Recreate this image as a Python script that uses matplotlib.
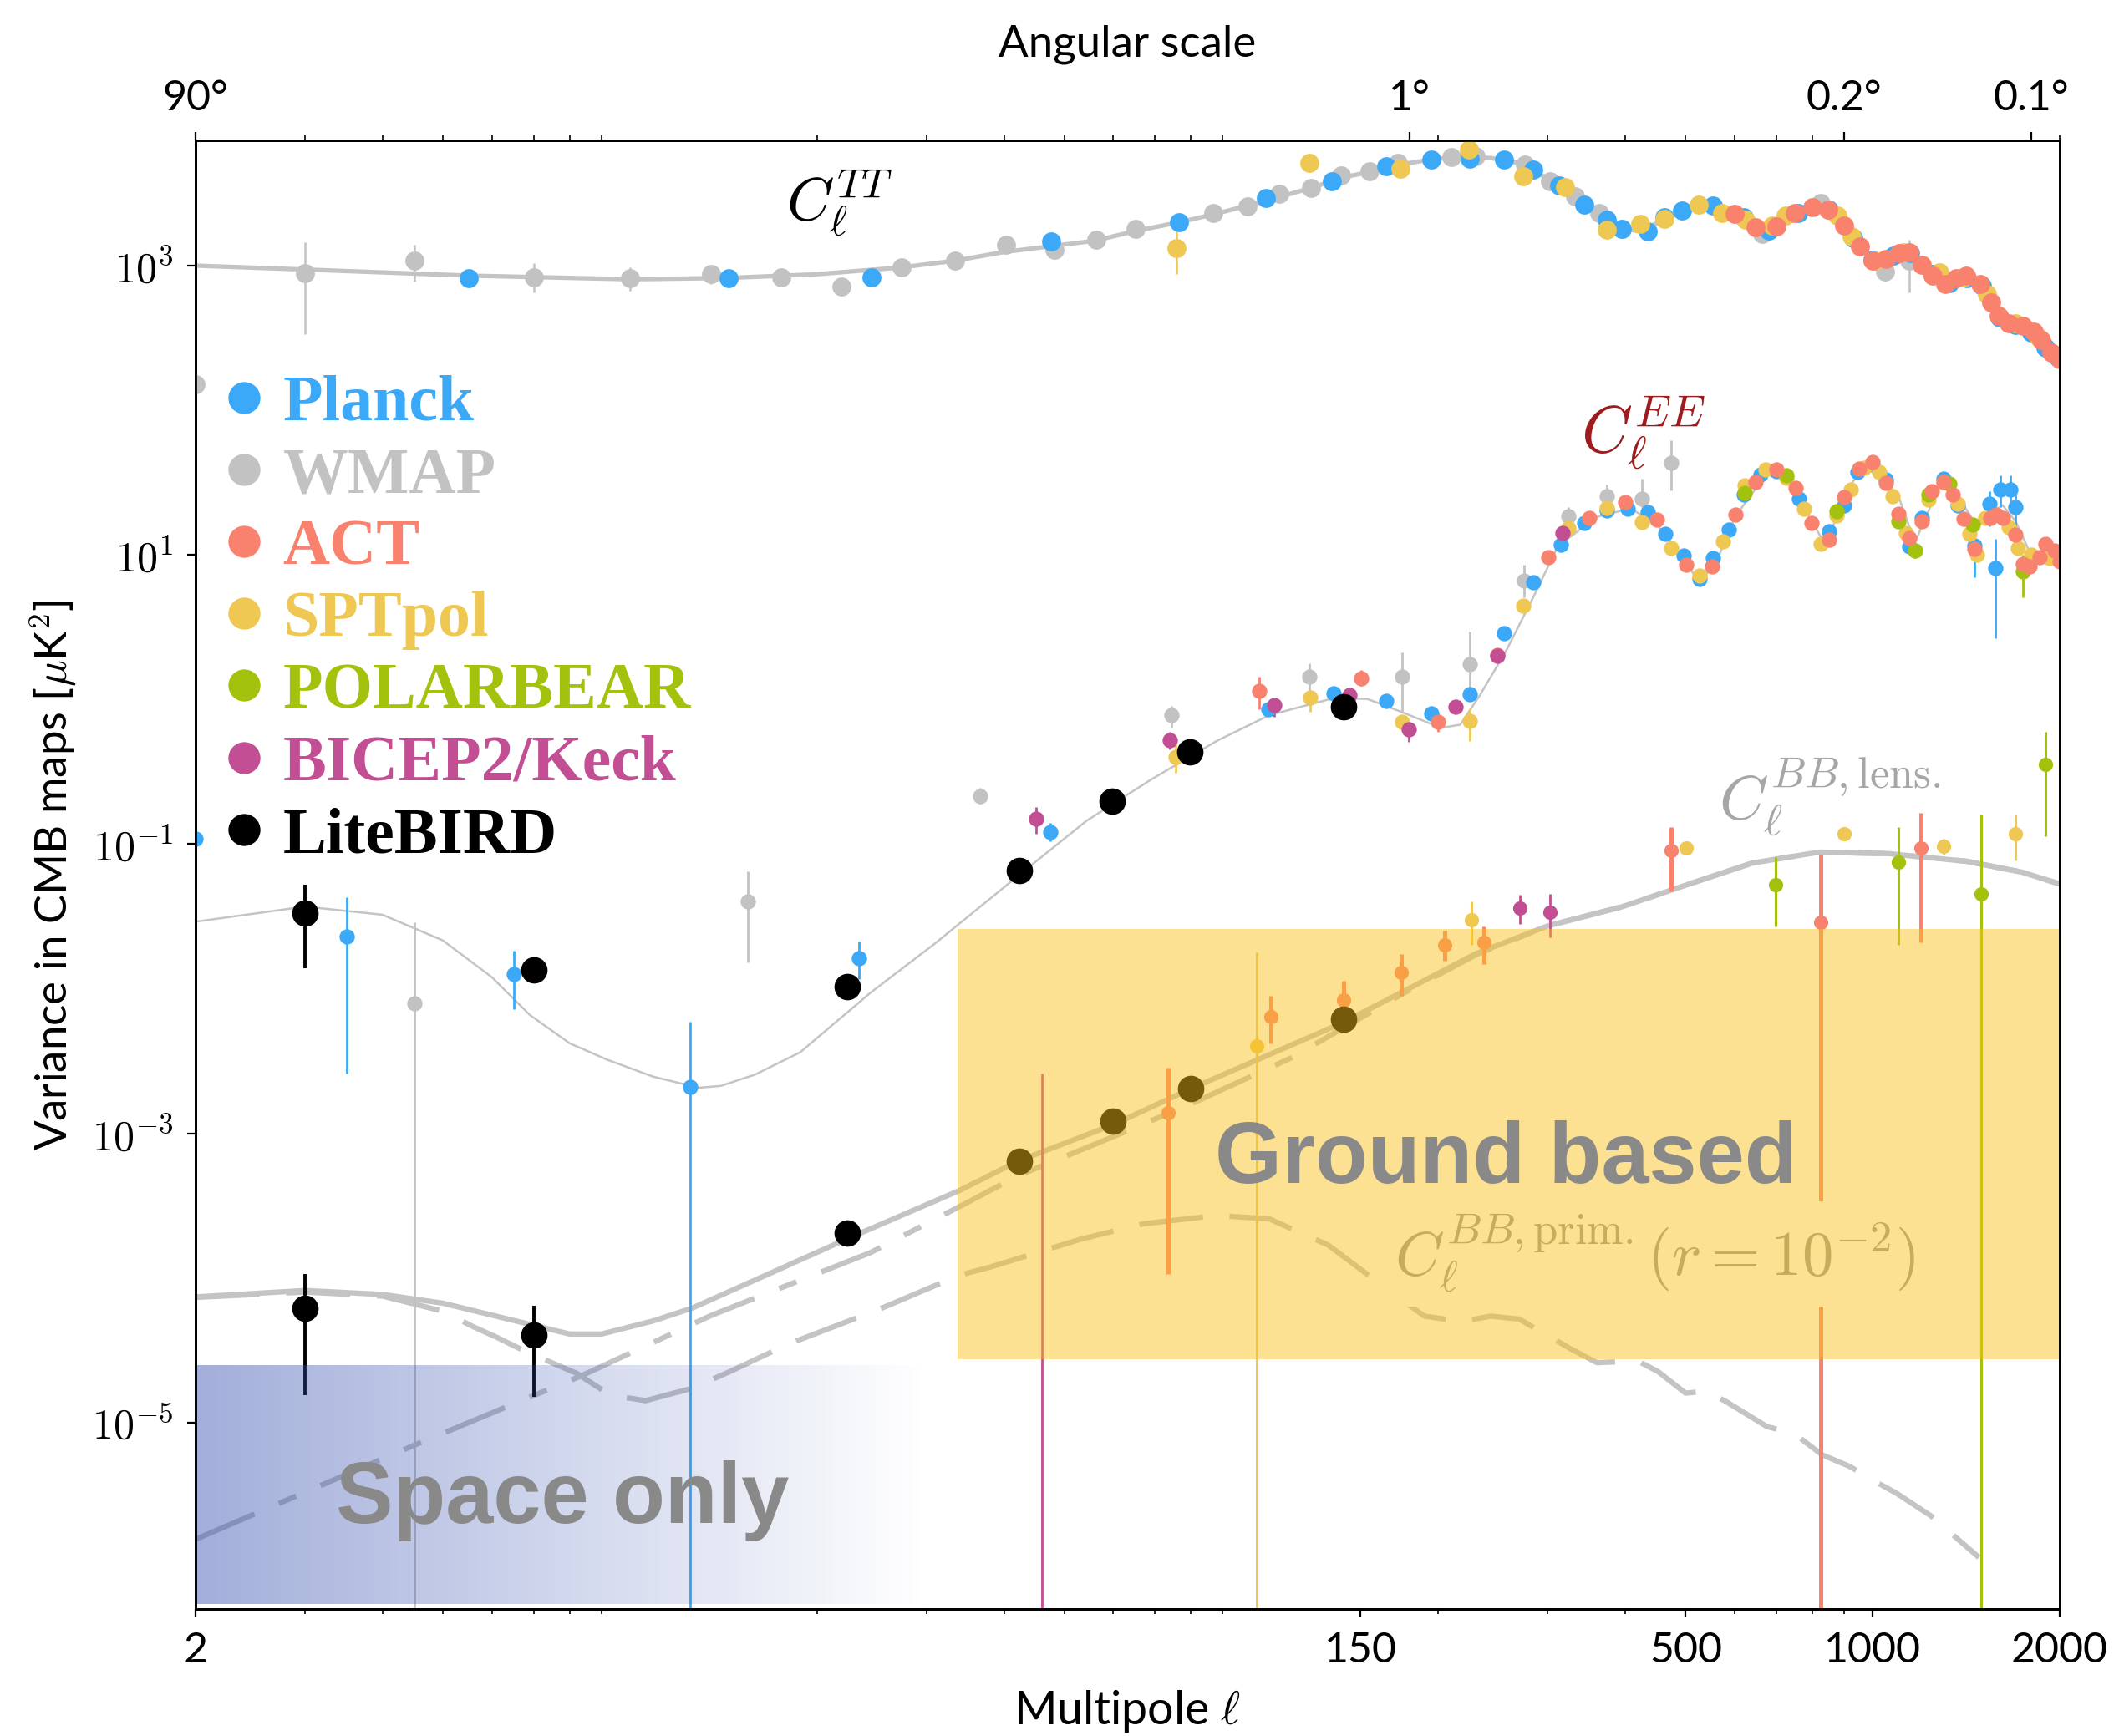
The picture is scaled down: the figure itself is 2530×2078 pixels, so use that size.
import numpy as np
import matplotlib
matplotlib.use('Agg')
import matplotlib.pyplot as plt
from matplotlib.lines import Line2D
from matplotlib.ticker import LogLocator, NullFormatter, NullLocator

plt.rcParams['font.family'] = ['Lato', 'DejaVu Sans']
plt.rcParams['mathtext.fontset'] = 'cm'

# ---------------- theory curves (D_ell, muK^2) ----------------
tt_l = [2, 3, 5.5, 10, 14.4, 20, 27.4, 33.4, 40, 56, 65, 76, 87, 106, 125, 140, 155, 175, 195, 220,
        243, 276, 303, 332, 363, 395, 420, 463, 493, 543, 600, 650, 690, 724, 800, 830, 900, 953, 1000, 1050,
        1100, 1147, 1200, 1250, 1308, 1360, 1416, 1492, 1552, 1595, 1658, 1745, 1817, 1866, 1939, 2000]
tt_d = [1000, 940, 853, 805, 822, 872, 973, 1083, 1242, 1486, 1733, 1982, 2262, 2824, 3448, 4064, 4440, 5020, 5440, 5620,
        5550, 5020, 3850, 3020, 2313, 1812, 1733, 2070, 2366, 2582, 2262, 1853, 1773, 2163, 2529, 2560, 1982, 1390, 1112, 1130,
        1200, 1242, 1064, 891, 780, 800, 833, 747, 560, 458, 401, 384, 351, 307, 257, 226]

ee_l = [2, 3, 4, 5, 6, 6.9, 8, 9.2, 10.9, 12.9, 14, 15.9, 18.8, 24.4, 30.9, 42, 54.3, 69.2, 88.2, 107,
        136.6, 154, 174.6, 202, 217, 233, 257, 283, 312, 361, 407, 449, 483, 526, 558, 601, 678, 700, 728, 824,
        840, 929, 1000, 1102, 1170, 1276, 1330, 1475, 1560, 1620, 1700, 1780, 1850, 1930, 2000]
ee_d = [0.0291, 0.037, 0.0325, 0.0216, 0.012, 0.0066, 0.0042, 0.00323, 0.00247, 0.00207,
        0.00213, 0.00255, 0.00364, 0.0094, 0.0204, 0.0596, 0.145, 0.282, 0.52, 0.78,
        1.03, 1.007, 0.82, 0.637, 0.67, 1.06, 2.16, 4.89, 11.6, 18.4,
        20.9, 16.6, 10.5, 6.6, 8.55, 18.4, 37.4, 39, 33.8, 13.5,
        12.2, 32.1, 42.5, 25, 12.2, 29, 31, 15.7, 20, 22, 17, 11, 10, 12, 11]

bb_tot_l = [2, 3, 4, 5, 6.2, 8, 9, 10.9, 12.6, 16, 22.4, 34, 42, 60, 80, 140, 175, 230, 300, 396,
            500, 640, 820, 1060, 1420, 1740, 2000]
bb_tot_d = [7.4e-5, 8.2e-5, 7.7e-5, 6.7e-5, 5.35e-5, 4.1e-5, 4.1e-5, 5.05e-5, 6.2e-5, 9.8e-5, 1.87e-4, 4.05e-4,
            6.4e-4, 1.15e-3, 2.04e-3, 5.8e-3, 9.5e-3, 0.0175, 0.0272, 0.037, 0.052, 0.074, 0.088, 0.086, 0.076,
            0.064, 0.053]

bb_lens_l = [2, 4.52, 8.4, 13.5, 19.2, 24.4, 34.8, 42, 60, 80, 116, 175, 230, 300, 396, 500, 640, 820,
             1060, 1420, 1740, 2000]
bb_lens_d = [1.56e-6, 7.05e-6, 2.13e-5, 5.5e-5, 1.0e-4, 1.5e-4, 3.3e-4, 5.07e-4, 9.5e-4, 1.6e-3, 3.33e-3,
             9.2e-3, 0.0172, 0.0272, 0.037, 0.052, 0.074, 0.088, 0.086, 0.076, 0.064, 0.053]

bb_prim_l = [2, 3, 4, 5, 5.6, 6.1, 6.8, 8.2, 9.3, 10.6, 12.6, 14.5, 18, 25, 34, 38, 53, 67, 88, 107,
             133, 166, 190, 218, 243, 270, 327, 360, 419, 452, 500, 540, 581, 612, 676, 748, 829, 917, 1015, 1094,
             1241, 1483]
bb_prim_d = [7.35e-5, 8.0e-5, 7.5e-5, 5.9e-5, 4.6e-5, 3.9e-5, 3.1e-5, 2.2e-5, 1.55e-5, 1.42e-5, 1.73e-5,
             2.26e-5, 3.5e-5, 6.0e-5, 1.05e-4, 1.19e-4, 1.85e-4, 2.37e-4, 2.71e-4, 2.56e-4, 1.69e-4, 8.3e-5,
             5.45e-5, 5.0e-5, 5.45e-5, 5.2e-5, 3.23e-5, 2.6e-5, 2.67e-5, 2.25e-5, 1.6e-5, 1.65e-5, 1.4e-5,
             1.22e-5, 9.4e-6, 8.4e-6, 6.0e-6, 5.0e-6, 3.87e-6, 3.24e-6, 2.27e-6, 1.17e-6]

# ---------------- TT data ----------------
planck_tt_l = [5.5, 14.4, 24.5, 47.6, 76.4, 105.7, 135, 165, 195, 225, 255, 284, 313, 344, 374, 395, 434, 463,
               493, 554, 620, 680, 760, 850, 930, 1000, 1080, 1150, 1250, 1330, 1420, 1500, 1600, 1700, 1800,
               1900, 1990]
planck_tt_d = [819, 819, 830, 1472, 2005, 2925, 3855, 4855, 5420, 5500, 5420, 4600, 3600, 2645, 2070, 1800, 1735,
               2163, 2416, 2608, 2150, 1750, 2300, 2450, 1550, 1100, 1170, 1220, 880, 760, 820, 730, 440, 390, 345,
               270, 230]

wmap_tt_l = [2, 3, 4.5, 7, 10, 13.5, 17.5, 21.9, 27.4, 33.4, 40.3, 48.2, 56.3, 65.2, 86.9, 98.5, 110.8, 124.8,
             139.6, 155, 172, 210, 230, 276, 303, 332, 363, 395, 665, 826, 1047, 1147]
wmap_tt_d = [151, 887, 1083, 830, 819, 875, 830, 716, 973, 1083, 1400, 1288, 1517, 1790, 2312, 2582, 3152, 3448,
             4210, 4500, 5140, 5620, 5700, 5020, 3850, 3020, 2313, 1800, 1655, 2706, 910, 1088]
wmap_tt_bar_l = [3, 4.5, 7, 10, 13.5, 17.5, 21.9, 1047, 1147]
wmap_tt_bar_lo = [336, 776, 653, 671, 746, 740, 640, 776, 653]
wmap_tt_bar_hi = [1452, 1396, 1040, 973, 973, 930, 790, 1069, 1517]

spt_tt_l = [75.7, 124, 174, 224, 274, 320, 374, 423, 463, 525, 572, 624, 690, 724, 877, 925, 1010, 1120, 1280,
            1400, 1530, 1700, 1850]
spt_tt_d = [1328, 5140, 4700, 6340, 4170, 3500, 1773, 1938, 2100, 2645, 2312, 2090, 1900, 2213, 2213, 1585, 1080,
            1230, 900, 830, 640, 400, 320]
spt_tt_bar_l = [75.7]
spt_tt_bar_lo = [872]
spt_tt_bar_hi = [1740]

act_tt_l = [600, 649, 700, 749, 799, 848, 900, 953, 1000, 1052, 1104, 1147, 1200, 1251, 1308, 1361, 1416, 1492,
            1552, 1595, 1658, 1745, 1817, 1866, 1939, 2000]
act_tt_d = [2282, 1853, 1880, 2312, 2529, 2440, 1892, 1360, 1088, 1112, 1215, 1242, 1018, 853, 747, 816, 853, 747,
            560, 448, 401, 384, 351, 307, 251, 226]

# ---------------- EE data ----------------
planck_ee_l = [2, 3.5, 6.5, 12.5, 23.4, 47.5, 106.5, 135.5, 165, 195, 225, 255, 284, 315, 343, 374, 404, 435, 464,
               496, 526, 553, 587, 620, 660, 700, 762, 850, 900, 945, 1000, 1050, 1145, 1200, 1301, 1371, 1459,
               1541, 1574, 1607, 1665, 1698]
planck_ee_d = [0.109, 0.023, 0.0127, 0.0021, 0.0163, 0.121, 0.853, 1.1, 0.98, 0.80, 1.09, 2.89, 6.5, 11.7, 16.6,
               20.3, 20.9, 19.8, 13.9, 9.95, 6.8, 9.5, 15, 26, 36, 38, 24.3, 14.6, 22, 37.4, 42, 33, 11.5, 18, 33.8,
               22, 11.6, 22.5, 8.1, 28.3, 28.3, 21.4]
planck_ee_bar_l = [2, 3.5, 6.5, 12.5, 23.4, 47.5, 1459, 1541, 1574, 1607, 1665, 1698]
planck_ee_bar_lo = [0.05, 0.0026, 0.0072, 1e-9, 0.0116, 0.105, 7.0, 15.7, 2.65, 21.4, 21.4, 15.7]
planck_ee_bar_hi = [0.2, 0.043, 0.0183, 0.0059, 0.0211, 0.14, 15, 27.5, 12.9, 35.6, 35.6, 27.5]

wmap_ee_l = [4.5, 15.5, 36.6, 74.4, 124, 175, 225, 275, 324, 374, 425, 474]
wmap_ee_d = [0.0079, 0.040, 0.216, 0.78, 1.44, 1.44, 1.76, 6.6, 18.4, 25.6, 24.5, 43.3]
wmap_ee_lo = [1e-9, 0.0153, 0.19, 0.64, 1.17, 0.82, 1.06, 5.1, 15.7, 23.1, 21.4, 28]
wmap_ee_hi = [0.029, 0.065, 0.245, 0.9, 1.77, 2.11, 2.94, 8.55, 21.4, 30.6, 33.8, 62]

spt_ee_l = [75.6, 124.5, 175, 225, 274, 324, 374, 425, 474, 526, 575, 623, 673, 726, 775, 824, 875, 923, 970,
            1024, 1077, 1130, 1229, 1300, 1371, 1430, 1470, 1520, 1658, 1715, 1800, 1930]
spt_ee_d = [0.403, 1.03, 0.70, 0.71, 4.47, 15.3, 21, 16.8, 11.2, 7.15, 12.4, 30.1, 38.8, 34.2, 20.9, 11.9, 18.8,
            28.3, 40, 37.4, 25.6, 14.2, 24.2, 32, 22.7, 14, 10, 18, 15.6, 11.2, 10, 9.5]
spt_ee_bar_l = [75.6, 124.5, 225]
spt_ee_bar_lo = [0.31, 0.82, 0.52]
spt_ee_bar_hi = [0.49, 1.17, 0.87]

act_ee_l = [103, 150.5, 200, 249, 301, 350, 400, 449, 501, 551, 601, 649, 700, 751, 798, 850, 901, 951, 1000,
            1051, 1102, 1145, 1200, 1245, 1301, 1346, 1400, 1460, 1548, 1580, 1620, 1698, 1746, 1790, 1858, 1900,
            1966, 2000]
act_ee_d = [1.14, 1.40, 0.70, 2.02, 9.66, 18.1, 23.3, 17.5, 8.55, 8.3, 19, 32.1, 38.8, 29, 16.6, 12.8, 25.2, 39.4,
            43.7, 31.3, 19.3, 13, 17, 27.5, 32, 26.2, 17.7, 11, 17.9, 19, 18, 13.8, 8.7, 8.3, 9.7, 12, 10.7, 9]
act_ee_bar_l = [103, 150.5, 200]
act_ee_bar_lo = [0.86, 1.25, 0.6]
act_ee_bar_hi = [1.44, 1.6, 0.8]

pb_ee_l = [623, 726, 875, 1102, 1170, 1229, 1330, 1451, 1746]
pb_ee_d = [27, 35.5, 20, 17, 10.7, 26, 31, 16.2, 7.7]
pb_ee_bar_l = [1170, 1746]
pb_ee_bar_lo = [9.5, 5.1]
pb_ee_bar_hi = [12, 10]

bk_ee_l = [45, 74, 109, 144, 179, 213, 249, 317]
bk_ee_d = [0.15, 0.525, 0.91, 1.07, 0.62, 0.895, 2.0, 14.2]
bk_ee_bar_l = [45, 74, 109, 179]
bk_ee_bar_lo = [0.118, 0.45, 0.76, 0.51]
bk_ee_bar_hi = [0.18, 0.6, 1.0, 0.7]

lb_ee_l = [3, 7, 22.4, 42.3, 59.8, 79.6, 141]
lb_ee_d = [0.0334, 0.01346, 0.0104, 0.0658, 0.197, 0.434, 0.887]
lb_ee_bar_l = [3, 7]
lb_ee_bar_lo = [0.0138, 0.0118]
lb_ee_bar_hi = [0.0525, 0.0153]

# ---------------- BB data ----------------
lb_bb_l = [3, 7, 22.4, 42.3, 60, 80, 140.6]
lb_bb_d = [6.22e-5, 4.03e-5, 2.04e-4, 6.38e-4, 1.21e-3, 2.05e-3, 6.18e-3]
lb_bb_bar_l = [3, 7]
lb_bb_bar_lo = [1.54e-5, 1.5e-5]
lb_bb_bar_hi = [1.06e-4, 6.45e-5]

act_bb_l = [73.5, 107.4, 140.6, 174.2, 205, 237, 474, 824, 1197]
act_bb_d = [1.38e-3, 6.38e-3, 8.4e-3, 0.013, 0.0202, 0.0209, 0.0906, 0.029, 0.094]
act_bb_lo = [1.06e-4, 4.2e-3, 6.1e-3, 9e-3, 0.0156, 0.0148, 0.047, 1e-9, 0.021]
act_bb_hi = [2.85e-3, 8.9e-3, 0.0114, 0.0173, 0.0252, 0.0271, 0.131, 0.085, 0.165]

spt_bb_l = [102, 226, 501, 901, 1301, 1698]
spt_bb_d = [4.0e-3, 0.0299, 0.094, 0.118, 0.0966, 0.118]
spt_bb_lo = [1e-9, 0.020, 0.086, 0.108, 0.085, 0.077]
spt_bb_hi = [0.0179, 0.040, 0.102, 0.128, 0.109, 0.16]

pb_bb_l = [698, 1102, 1497, 1896]
pb_bb_d = [0.0526, 0.075, 0.045, 0.354]
pb_bb_lo = [0.027, 0.020, 1e-9, 0.113]
pb_bb_hi = [0.081, 0.131, 0.16, 0.60]

bk_bb_l = [271, 303]
bk_bb_d = [0.0361, 0.0338]
bk_bb_bar_l = [46, 271, 303]
bk_bb_bar_lo = [1e-9, 0.0279, 0.0227]
bk_bb_bar_hi = [2.6e-3, 0.0447, 0.0453]

# ---------------- style ----------------
c_planck = '#3ba9f7'
c_wmap = '#c2c2c2'
c_act = '#f9826f'
c_spt = '#efc753'
c_pb = '#a2c20e'
c_bk = '#c24f93'
c_lb = '#000000'
c_th = '#c4c4c4'

leg_names = ['Planck', 'WMAP', 'ACT', 'SPTpol', 'POLARBEAR', 'BICEP2/Keck', 'LiteBIRD']
leg_colors = [c_planck, c_wmap, c_act, c_spt, c_pb, c_bk, c_lb]

fig = plt.figure(figsize=(12.65, 10.39), dpi=200)
ax = fig.add_axes([0.0925, 0.0731, 0.8818, 0.8461])
ax.set_xscale('log')
ax.set_yscale('log')


def pts(l, d, color, ms, z=3):
    ax.plot(l, d, 'o', color=color, ms=ms, mec='none', zorder=z)


def bars(l, lo, hi, color, lw, z=2):
    ax.vlines(l, lo, hi, color=color, lw=lw, zorder=z)


# theory
ax.plot(tt_l, tt_d, color=c_th, lw=1.9, zorder=1)
ax.plot(ee_l, ee_d, color=c_th, lw=0.9, zorder=1)
ax.plot(bb_tot_l, bb_tot_d, color=c_th, lw=2.3, zorder=1)
ax.plot(bb_lens_l, bb_lens_d, color=c_th, lw=2.3, ls=(0, (12, 5, 3.5, 5)), zorder=1)
ax.plot(bb_prim_l, bb_prim_d, color=c_th, lw=2.3, ls=(0, (12, 5)), zorder=1)

ms_tt, ms_ee, ms_bb, ms_lb = 8.2, 6.6, 6.2, 11.4

# TT
bars(wmap_tt_bar_l, wmap_tt_bar_lo, wmap_tt_bar_hi, c_wmap, 0.9)
pts(wmap_tt_l, wmap_tt_d, c_wmap, ms_tt)
pts(planck_tt_l, planck_tt_d, c_planck, ms_tt)
bars(spt_tt_bar_l, spt_tt_bar_lo, spt_tt_bar_hi, c_spt, 0.9)
pts(spt_tt_l, spt_tt_d, c_spt, ms_tt)
pts(act_tt_l, act_tt_d, c_act, ms_tt)

# EE
bars(wmap_ee_l, wmap_ee_lo, wmap_ee_hi, c_wmap, 1.0)
pts(wmap_ee_l, wmap_ee_d, c_wmap, ms_ee)
bars(planck_ee_bar_l, planck_ee_bar_lo, planck_ee_bar_hi, c_planck, 1.0)
pts(planck_ee_l, planck_ee_d, c_planck, ms_ee)
bars(spt_ee_bar_l, spt_ee_bar_lo, spt_ee_bar_hi, c_spt, 1.0)
pts(spt_ee_l, spt_ee_d, c_spt, ms_ee)
bars(pb_ee_bar_l, pb_ee_bar_lo, pb_ee_bar_hi, c_pb, 1.0)
pts(pb_ee_l, pb_ee_d, c_pb, ms_ee)
bars(act_ee_bar_l, act_ee_bar_lo, act_ee_bar_hi, c_act, 1.0)
pts(act_ee_l, act_ee_d, c_act, ms_ee)
bars(bk_ee_bar_l, bk_ee_bar_lo, bk_ee_bar_hi, c_bk, 1.0)
pts(bk_ee_l, bk_ee_d, c_bk, ms_ee)

# BB
bars(act_bb_l, act_bb_lo, act_bb_hi, c_act, 1.8)
pts(act_bb_l, act_bb_d, c_act, ms_bb)
bars(spt_bb_l, spt_bb_lo, spt_bb_hi, c_spt, 1.1)
pts(spt_bb_l, spt_bb_d, c_spt, ms_bb)
bars(pb_bb_l, pb_bb_lo, pb_bb_hi, c_pb, 1.1)
pts(pb_bb_l, pb_bb_d, c_pb, ms_bb)
bars(bk_bb_bar_l, bk_bb_bar_lo, bk_bb_bar_hi, c_bk, 1.0)
pts(bk_bb_l, bk_bb_d, c_bk, ms_bb)

# LiteBIRD forecasts on top
bars(lb_ee_bar_l, lb_ee_bar_lo, lb_ee_bar_hi, c_lb, 1.4, z=3.5)
pts(lb_ee_l, lb_ee_d, c_lb, ms_lb, z=3.6)
bars(lb_bb_bar_l, lb_bb_bar_lo, lb_bb_bar_hi, c_lb, 1.4, z=3.5)
pts(lb_bb_l, lb_bb_d, c_lb, ms_lb, z=3.6)

# labels of the spectra
ax.text(17.85, 2080, r'$C_\ell^{TT}$', fontsize=26, color='black', ha='left', va='baseline', zorder=4)
ax.text(339, 50.7, r'$C_\ell^{EE}$', fontsize=28, color='#9e1b1e', ha='left', va='baseline', zorder=4)
ax.text(565, 0.149, r'$C_\ell^{BB,\mathrm{lens.}}$', fontsize=27, color='#a6a6a6',
        ha='left', va='baseline', zorder=4)
ax.text(170, 1.03e-4, r'$C_\ell^{BB,\mathrm{prim.}}(r=10^{-2})$', fontsize=27, color='#9a9a9a',
        ha='left', va='baseline', zorder=4, bbox=dict(fc='white', ec='none', pad=5))

ax.set_xlim(2, 2000)
ax.set_ylim(5.14e-7, 7360)

# ground based box
ax.fill_between([33.7, 2100], 2.75e-5, 0.026, color='#fac118', alpha=0.47, lw=0, zorder=5)

# space only gradient box (linear in screen space)
corners = (ax.transScale + ax.transLimits).transform([[2, 5.6e-7], [30, 2.5e-5]])
grad = np.zeros((2, 256, 4))
grad[..., 0] = 0.21
grad[..., 1] = 0.31
grad[..., 2] = 0.69
grad[..., 3] = np.linspace(0.46, 0.0, 256)
ax.imshow(grad, extent=[corners[0, 0], corners[1, 0], corners[0, 1], corners[1, 1]],
          transform=ax.transAxes, aspect='auto', interpolation='bilinear', zorder=5)
ax.set_xlim(2, 2000)
ax.set_ylim(5.14e-7, 7360)

ax.text(87.3, 4.57e-4, 'Ground based', fontsize=37, fontweight='bold', family='Liberation Sans',
        color='#898989', ha='left', va='baseline', zorder=6)
ax.text(3.36, 2.03e-6, 'Space only', fontsize=37, fontweight='bold', family='Liberation Sans',
        color='#898989', ha='left', va='baseline', zorder=6)

# legend
handles = [Line2D([], [], ls='none', marker='o', ms=13.8, color=c, mec='none') for c in leg_colors]
leg = ax.legend(handles, leg_names, loc='upper left', bbox_to_anchor=(0.0155, 0.8405), frameon=False,
                prop=dict(family='Liberation Serif', weight='bold', size=28), handlelength=0.6,
                handletextpad=0.3, labelspacing=0.19, borderpad=0, borderaxespad=0)
for t, c in zip(leg.get_texts(), leg_colors):
    t.set_color(c)
leg.set_zorder(10)

# ticks
ax.set_xticks([2, 150, 500, 1000, 2000])
ax.set_xticklabels(['2', '150', '500', '1000', '2000'])
ax.xaxis.set_minor_locator(LogLocator(base=10, subs=np.arange(2, 10), numticks=30))
ax.xaxis.set_minor_formatter(NullFormatter())
ax.set_yticks([1e-5, 1e-3, 1e-1, 1e1, 1e3])
ax.set_yticklabels([r'$10^{-5}$', r'$10^{-3}$', r'$10^{-1}$', r'$10^{1}$', r'$10^{3}$'])
ax.yaxis.set_minor_locator(NullLocator())
ax.tick_params(which='major', length=3.6, width=0.8, labelsize=18, pad=6)
ax.tick_params(which='minor', length=2.0, width=0.6)

ax2 = ax.twiny()
ax2.set_xscale('log')
ax2.set_xlim(2, 2000)
ax2.set_xticks([2, 180, 900, 1800])
ax2.set_xticklabels(['90°', '1°', '0.2°', '0.1°'])
ax2.xaxis.set_minor_locator(LogLocator(base=10, subs=np.arange(2, 10), numticks=30))
ax2.xaxis.set_minor_formatter(NullFormatter())
ax2.tick_params(which='major', length=3.6, width=0.8, labelsize=18, pad=6)
ax2.tick_params(which='minor', length=2.0, width=0.6)

for a in (ax, ax2):
    for s in a.spines.values():
        s.set_linewidth(1.0)

ax.set_xlabel(r'Multipole $\ell$', fontsize=20, labelpad=8)
ax.set_ylabel(r'Variance in CMB maps [$\mu$K$^2$]', fontsize=19, labelpad=6)
ax2.set_xlabel('Angular scale', fontsize=19, labelpad=10)

fig.savefig('out.png', dpi=200)
